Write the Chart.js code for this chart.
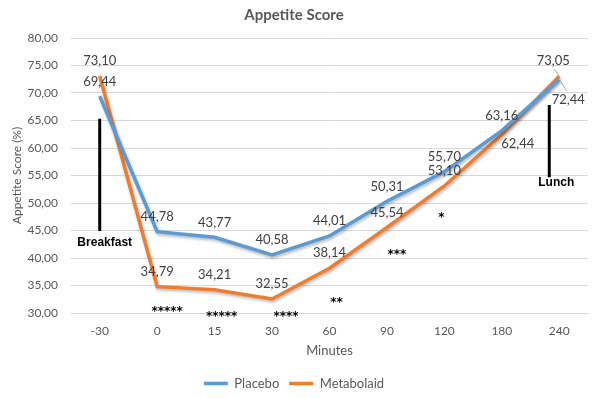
<!DOCTYPE html>
<html>
<head>
<meta charset="utf-8">
<script src="https://cdn.jsdelivr.net/npm/chart.js@4.4.1/dist/chart.umd.min.js"></script>
<style>
  html, body { margin: 0; padding: 0; background: #ffffff; }
  #wrap { width: 598px; height: 398px; }
</style>
</head>
<body>
<div id="wrap"><canvas id="c" width="598" height="398"></canvas></div>
<script>
// ---- data ----
const categories = ['-30', '0', '15', '30', '60', '90', '120', '180', '240'];
const placebo = [69.44, 44.78, 43.77, 40.58, 44.01, 50.31, 55.70, 63.16, 72.44];
const metabolaid = [73.10, 34.79, 34.21, 32.55, 38.14, 45.54, 53.10, 62.44, 73.05];
const yMin = 30, yMax = 80, yStep = 5;
const starLabels = ['*****', '*****', '****', '**', '***', '*'];
const starCategory = [1, 2, 3, 4, 5, 6];
const starValue = [30.9, 30.0, 30.0, 32.5, 41.3, 48.0];

// ---- styling of label placement (pixel offsets from the point) ----
const placeboLabelOffset = [[0,-14],[0,-15],[0,-14],[0,-15],[0,-15],[0,-14],[0,-15],[0,-15],[9,20]];
const metaLabelOffset = [[0,-15],[0,-15],[0,-15],[0,-15],[0,-15],[0,-15],[0,-15],[16,9],[-6,-15]];
const starDx = [10, 7, 14, 7, 10, -3];

function fmt(v) { return v.toFixed(2).replace('.', ','); }

const labelPlugin = {
  id: 'labelPlugin',
  beforeDatasetDraw(chart, args) {
    const ctx = chart.ctx;
    ctx.save();
    ctx.shadowColor = 'rgba(0,0,0,0.28)';
    ctx.shadowBlur = 3;
    ctx.shadowOffsetX = 1;
    ctx.shadowOffsetY = 2;
  },
  afterDatasetDraw(chart) {
    chart.ctx.restore();
  },
  afterDatasetsDraw(chart) {
    const ctx = chart.ctx;
    const xs = chart.scales.x, ys = chart.scales.y;
    ctx.save();
    // data labels
    ctx.font = '13px Lato';
    ctx.fillStyle = '#404040';
    ctx.textAlign = 'center';
    ctx.textBaseline = 'middle';
    const sets = [[0, placebo, placeboLabelOffset], [1, metabolaid, metaLabelOffset]];
    sets.forEach(([di, data, offs]) => {
      const meta = chart.getDatasetMeta(di);
      meta.data.forEach((pt, i) => {
        const o = offs[i];
        ctx.fillText(fmt(data[i]), pt.x + o[0], pt.y + o[1]);
      });
    });
    // leader lines at last point
    const pPl = chart.getDatasetMeta(0).data[8];
    const pMe = chart.getDatasetMeta(1).data[8];
    ctx.strokeStyle = '#A6A6A6';
    ctx.lineWidth = 1;
    ctx.beginPath();
    ctx.moveTo(pMe.x - 5, pMe.y - 7);
    ctx.lineTo(pMe.x, pMe.y);
    ctx.moveTo(pPl.x + 1, pPl.y + 1);
    ctx.lineTo(pPl.x + 7, pPl.y + 11);
    ctx.stroke();

    // event lines
    ctx.strokeStyle = '#000000';
    ctx.lineWidth = 3;
    const bx = xs.getPixelForValue(0);
    ctx.beginPath();
    ctx.moveTo(bx, ys.getPixelForValue(65.3));
    ctx.lineTo(bx, ys.getPixelForValue(44.9));
    const lx = xs.getPixelForValue(8) - 10;
    ctx.moveTo(lx, ys.getPixelForValue(67.8));
    ctx.lineTo(lx, ys.getPixelForValue(54.7));
    ctx.stroke();

    ctx.font = 'bold 12px "Liberation Sans"';
    ctx.fillStyle = '#000000';
    ctx.fillText('Breakfast', bx + 5, ys.getPixelForValue(42.7));
    ctx.fillText('Lunch', lx + 7, ys.getPixelForValue(53.7));

    // significance stars
    ctx.font = 'bold 12px "DejaVu Sans"';
    ctx.textBaseline = 'alphabetic';
    starLabels.forEach((s, i) => {
      const x = xs.getPixelForValue(starCategory[i]) + starDx[i];
      const y = ys.getPixelForValue(starValue[i]) + 7;
      ctx.fillText(s, x, y);
    });
    ctx.restore();
  }
};

new Chart(document.getElementById('c'), {
  type: 'line',
  data: {
    labels: categories,
    datasets: [
      { label: 'Placebo', data: placebo, borderColor: '#5B9BD5', backgroundColor: '#5B9BD5',
        borderWidth: 3.5, pointRadius: 0, tension: 0, fill: false },
      { label: 'Metabolaid', data: metabolaid, borderColor: '#ED7D31', backgroundColor: '#ED7D31',
        borderWidth: 3.5, pointRadius: 0, tension: 0, fill: false }
    ]
  },
  options: {
    responsive: false,
    animation: false,
    devicePixelRatio: 1,
    layout: { padding: { left: 0, right: 10, top: 0, bottom: -2 } },
    plugins: {
      title: {
        display: true, text: 'Appetite Score', color: '#595959',
        font: { family: 'Lato', size: 15, weight: 'bold' },
        padding: { top: 6, bottom: 14 }
      },
      legend: {
        position: 'bottom',
        labels: {
          color: '#595959', font: { family: 'Lato', size: 13 },
          usePointStyle: true, pointStyle: 'line', pointStyleWidth: 24, padding: 10
        }
      },
      tooltip: { enabled: false }
    },
    scales: {
      x: {
        offset: true,
        grid: { display: false, drawTicks: false },
        border: { display: true, color: '#D9D9D9' },
        ticks: { color: '#595959', font: { family: 'Lato', size: 12 }, padding: 11 },
        title: { display: true, text: 'Minutes', color: '#595959',
                 font: { family: 'Lato', size: 13 }, padding: { top: 0, bottom: 8 } },
        afterFit(s) { s.height = 54; }
      },
      y: {
        min: yMin, max: yMax,
        grid: { color: '#D9D9D9', drawTicks: false },
        border: { display: false },
        ticks: { stepSize: yStep, color: '#595959', font: { family: 'Lato', size: 12 }, padding: 13,
                 callback: (v) => fmt(v) },
        title: { display: true, text: 'Appetite Score (%)', color: '#595959',
                 font: { family: 'Lato', size: 12 }, padding: { top: 10, bottom: 0 } },
        afterFit(s) { s.width = 71; }
      }
    }
  },
  plugins: [labelPlugin]
});
</script>
</body>
</html>
